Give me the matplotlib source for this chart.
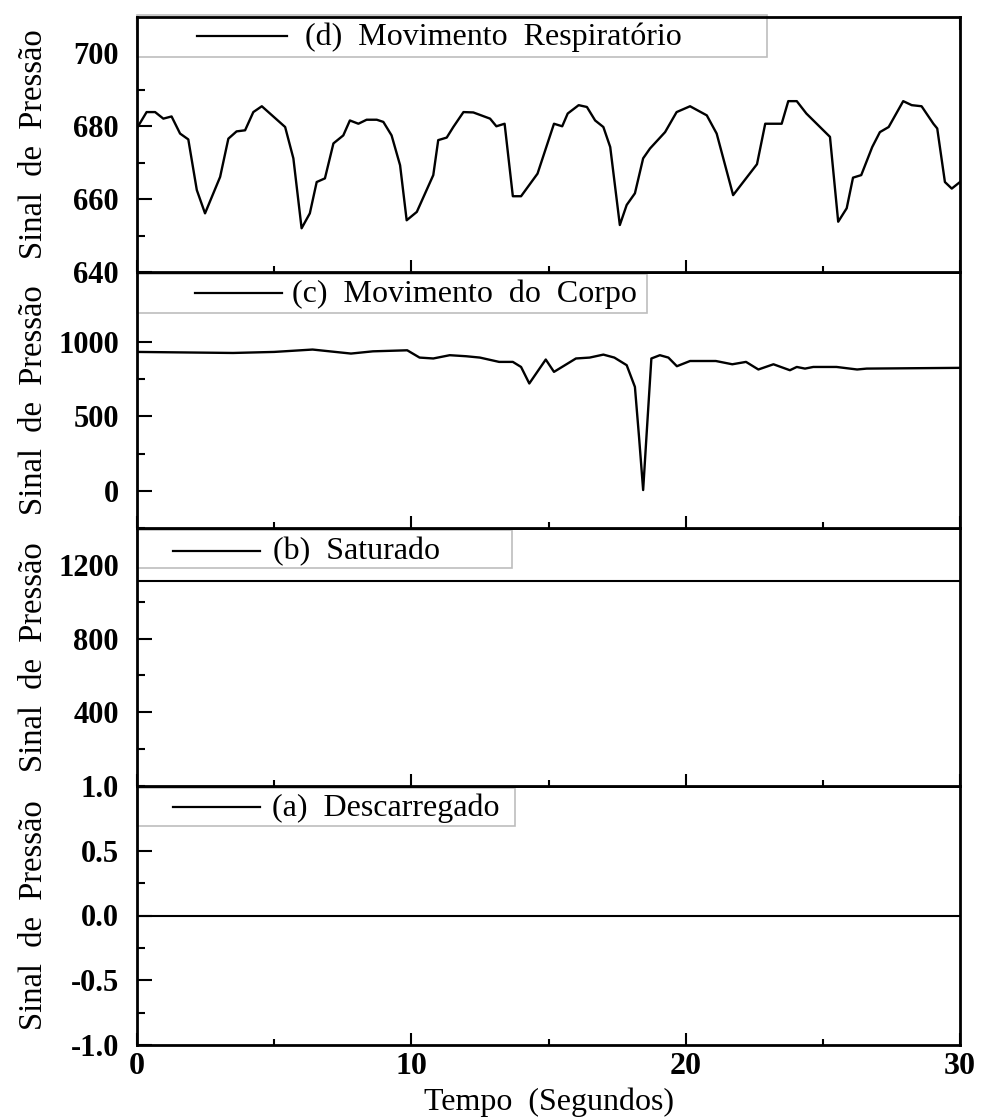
import matplotlib
matplotlib.use('Agg')
import matplotlib.pyplot as plt
from matplotlib.patches import Rectangle
from matplotlib.lines import Line2D
from matplotlib.ticker import MultipleLocator, FixedLocator

plt.rcParams['font.family'] = ['Liberation Serif', 'DejaVu Serif']
plt.rcParams['axes.unicode_minus'] = False

# ---------------- data ----------------
# (d) respiratory movement
resp_t = [0.0, 0.35, 0.66, 0.96, 1.26, 1.57, 1.87, 2.18, 2.48, 3.03, 3.33, 3.63, 3.94,
          4.24, 4.55, 5.4, 5.7, 6.0, 6.3, 6.55, 6.85, 7.16, 7.52, 7.76, 8.07, 8.37,
          8.74, 8.98, 9.28, 9.59, 9.83, 10.2, 10.8, 10.98, 11.29, 11.53, 11.9, 12.26,
          12.87, 13.1, 13.4, 13.7, 14.0, 14.6, 15.2, 15.5, 15.7, 16.1, 16.4, 16.7,
          17.0, 17.25, 17.6, 17.85, 18.15, 18.45, 18.7, 19.25, 19.67, 20.16, 20.77,
          21.13, 21.73, 22.6, 22.9, 23.5, 23.74, 24.05, 24.4, 25.26, 25.56, 25.87,
          26.1, 26.4, 26.8, 27.08, 27.4, 27.93, 28.24, 28.6, 29.03, 29.17, 29.45,
          29.7, 30.0]
resp_v = [679.5, 683.9, 683.9, 682.1, 682.7, 678.0, 676.4, 662.5, 656.1, 666.1, 676.6,
          678.6, 678.9, 683.9, 685.5, 679.8, 671.2, 652.0, 656.1, 664.7, 665.7, 675.3,
          677.5, 681.6, 680.7, 681.8, 681.8, 681.2, 677.5, 669.3, 654.2, 656.5, 666.6,
          676.2, 676.9, 679.8, 683.9, 683.8, 682.1, 680.0, 680.7, 660.8, 660.8, 667.0,
          680.7, 680.0, 683.5, 685.8, 685.3, 681.6, 679.8, 674.3, 652.9, 658.4, 661.6,
          671.2, 673.9, 678.4, 683.9, 685.5, 683.0, 678.0, 661.1, 669.6, 680.7, 680.7,
          686.9, 686.9, 683.5, 677.1, 653.8, 657.5, 665.9, 666.6, 674.3, 678.4, 679.8,
          686.9, 685.8, 685.5, 680.7, 679.4, 664.7, 662.9, 664.7]

# (c) body movement
body_t = [0.0, 3.5, 5.0, 6.4, 7.8, 8.6, 9.85, 10.3, 10.8, 11.4, 12.0, 12.5, 13.2, 13.7,
          14.0, 14.3, 14.9, 15.2, 16.0, 16.5, 17.0, 17.4, 17.85, 18.15, 18.3, 18.45,
          18.57, 18.75, 19.06, 19.37, 19.68, 20.16, 21.1, 21.7, 22.2, 22.65, 23.2,
          23.8, 24.05, 24.35, 24.65, 25.5, 26.25, 26.6, 30.0]
body_v = [933, 926, 933, 949, 922, 937, 944, 895, 889, 911, 904, 895, 866, 866,
          832, 721, 882, 799, 889, 895, 915, 895, 844, 698, 362, 5,
          362, 889, 911, 895, 837, 872, 872, 850, 866, 815, 850,
          810, 832, 821, 832, 832, 815, 821, 826]

# (b) saturated
sat_t = [0, 30]
sat_v = [1110, 1110]

# (a) unloaded
unl_t = [0, 30]
unl_v = [0, 0]

legend_labels = ['(d)  Movimento  Respiratório', '(c)  Movimento  do  Corpo',
                 '(b)  Saturado', '(a)  Descarregado']
y_label = 'Sinal  de  Pressão'
x_label = 'Tempo  (Segundos)'
x_ticks = [0, 10, 20, 30]
d_yticks = [640, 660, 680, 700]
c_yticks = [0, 500, 1000]
b_yticks = [400, 800, 1200]
a_yticks = [-1.0, -0.5, 0.0, 0.5, 1.0]

# ---------------- layout ----------------
W, H = 981, 1120
L, R = 137, 960
panel_px = [(17, 272), (272, 528), (528, 786), (786, 1045)]  # top, bottom
ylims = [(640, 710), (-250, 1470), (0, 1400), (-1.0, 1.0)]
yticks = [d_yticks, c_yticks, b_yticks, a_yticks]
yminor = [10, 250, 200, 0.25]
series = [(resp_t, resp_v), (body_t, body_v), (sat_t, sat_v), (unl_t, unl_v)]
# legend box: top, bottom, right, handle x0, handle x1, handle y, text x
leg_px = [(15, 57, 767, 197, 287, 36, 305),
          (274, 313, 647, 195, 282, 293, 292),
          (530, 568, 512, 173, 260, 551, 273),
          (788, 826, 515, 173, 260, 807, 272)]

fig = plt.figure(figsize=(W / 100, H / 100), dpi=100)
fig.patch.set_facecolor('white')

axes = []
for i, (top, bot) in enumerate(panel_px):
    ax = fig.add_axes([L / W, 1 - bot / H, (R - L) / W, (bot - top) / H])
    ax.set_zorder(10 - i)
    axes.append(ax)
    t, v = series[i]
    ax.plot(t, v, color='black', lw=1.7 if i < 2 else 1.5, zorder=2)
    ax.set_xlim(0, 30)
    ax.set_ylim(*ylims[i])
    ax.xaxis.set_major_locator(FixedLocator(x_ticks))
    ax.xaxis.set_minor_locator(MultipleLocator(5))
    ax.yaxis.set_major_locator(FixedLocator(yticks[i]))
    ax.yaxis.set_minor_locator(MultipleLocator(yminor[i]))
    for s in ax.spines.values():
        s.set_linewidth(2.0)
        s.set_zorder(6)
    ax.tick_params(axis='both', which='both', direction='in', width=1.5, color='black')
    ax.tick_params(axis='y', which='major', length=11, pad=13)
    ax.tick_params(axis='y', which='minor', length=6)
    ax.tick_params(axis='x', which='major', length=9, pad=5)
    ax.tick_params(axis='x', which='minor', length=4.5)
    ax.tick_params(axis='x', top=(i == 0), labelbottom=(i == 3))
    for lab in ax.get_yticklabels():
        lab.set_fontsize(22)
        lab.set_fontweight('bold')
    for lab in ax.get_xticklabels():
        lab.set_fontsize(23)
        lab.set_fontweight('bold')
    ax.set_ylabel(y_label, fontsize=23.5)
    ax.yaxis.set_label_coords((49 - L) / (R - L), 0.5)

    # legend box drawn in figure pixels
    ltop, lbot, lright, hx0, hx1, hy, tx = leg_px[i]
    box = Rectangle((L / W, 1 - lbot / H), (lright - L) / W, (lbot - ltop) / H,
                    transform=fig.transFigure, facecolor='white', edgecolor='#bdbdbd',
                    lw=1.2, zorder=4, clip_on=False)
    ax.add_patch(box)
    handle = Line2D([hx0 / W, hx1 / W], [1 - hy / H, 1 - hy / H], transform=fig.transFigure,
                    color='black', lw=1.6, zorder=5, clip_on=False)
    ax.add_artist(handle)
    ax.text(tx / W, 1 - (hy + 1) / H, legend_labels[i], transform=fig.transFigure,
            fontsize=23, ha='left', va='center', zorder=5, clip_on=False)

axes[3].set_xlabel(x_label, fontsize=23, labelpad=5)

fig.savefig('out.png', dpi=100, facecolor='white')
